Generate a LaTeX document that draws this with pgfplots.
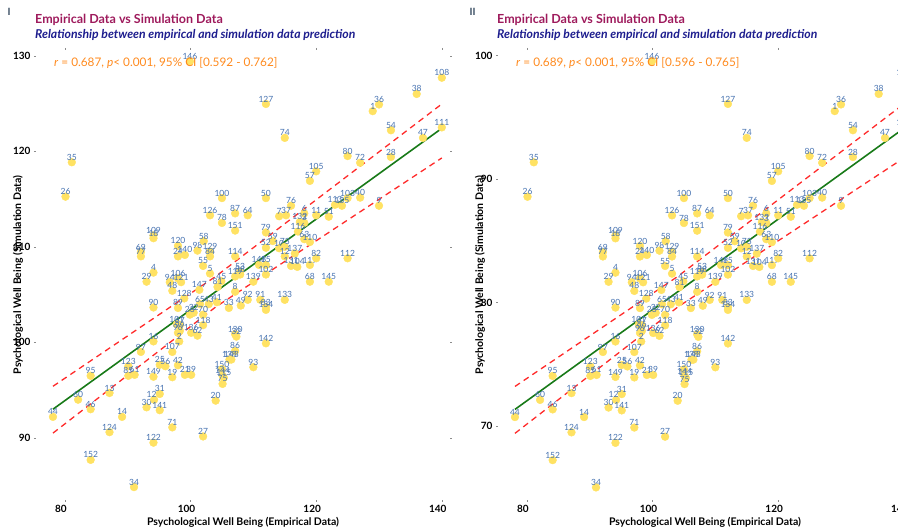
\documentclass[border=0pt]{standalone}
\usepackage{pgfplots}
\pgfplotsset{compat=1.18}
\usepackage{pgfplotstable}
\usepackage{fontspec}
\setmainfont{Lato}
\definecolor{dotc}{HTML}{FFE263}
\definecolor{labc}{HTML}{4672B0}
\definecolor{titc}{HTML}{9E1A5C}
\definecolor{subc}{HTML}{1E1E8E}
\definecolor{annc}{HTML}{FF8A1E}
\definecolor{romc}{HTML}{34495E}
\definecolor{regc}{HTML}{187A18}
\definecolor{cic}{HTML}{FF2A2A}

\pgfplotstableread{
lab x y y2
146 99.9 129.4 99.54
108 140.0 127.7 98.22
35 81.1 118.85 91.36
26 80.1 115.25 88.57
100 105.0 115.1 88.46
126 103.1 113.3 87.06
78 105.0 112.5 86.44
109 94.1 111.2 85.44
18 94.1 110.9 85.20
69 92.1 109.45 84.08
77 92.1 109.0 83.73
120 98.0 110.1 84.58
24 98.0 109.0 83.73
140 99.1 109.15 83.85
98 101.1 109.6 84.20
58 102.1 110.6 84.97
129 103.1 109.5 84.12
84 103.1 109.0 83.73
55 102.0 108.0 82.96
5 103.1 107.2 82.34
4 94.1 107.3 82.42
29 93.0 106.35 81.68
106 98.0 106.7 81.95
121 98.5 106.3 81.64
94 96.7 106.3 81.64
48 97.1 105.4 80.94
128 99.0 104.6 80.32
147 101.4 105.5 81.02
45 104.9 106.4 81.72
90 94.1 103.65 79.59
89 98.0 103.6 79.55
81 104.3 105.8 81.25
127 112.0 124.95 96.09
38 136.0 126.0 96.90
36 130.0 124.9 96.05
1 129.0 124.2 95.51
54 131.9 122.2 93.96
111 140.0 122.5 94.19
47 137.0 121.4 93.34
74 115.0 121.4 93.34
80 125.0 119.5 91.87
72 127.0 118.8 91.32
28 131.9 119.4 91.79
105 120.0 117.9 90.63
57 119.0 116.9 89.85
50 112.0 115.1 88.46
76 116.0 114.3 87.84
103 125.0 115.1 88.46
40 127.0 115.15 88.50
113 123.0 114.4 87.92
135 124.1 114.3 87.84
9 130.0 114.3 87.84
87 107.1 113.5 87.22
64 109.1 113.3 87.06
7 114.1 113.2 86.99
37 115.2 113.3 87.06
6 118.1 113.5 87.22
11 120.0 113.3 87.06
51 122.0 113.15 86.95
132 117.4 112.6 86.52
3 118.1 112.5 86.44
151 107.1 111.7 85.82
79 112.0 111.5 85.67
116 117.1 111.6 85.75
59 113.1 110.6 84.97
52 112.0 109.9 84.43
10 114.1 109.85 84.39
73 115.0 110.0 84.51
63 118.1 110.8 85.13
110 119.0 110.5 84.89
114 107.1 109.0 83.73
148 110.9 108.1 83.03
15 112.0 108.1 83.03
12 115.0 109.0 83.73
137 116.6 109.3 83.96
131 116.0 108.0 82.96
104 117.0 107.9 82.88
117 119.0 108.1 83.03
82 120.0 108.8 83.58
112 125.0 108.8 83.58
53 107.9 107.4 82.49
88 107.9 107.1 82.26
119 107.1 106.9 82.11
139 110.0 106.35 81.68
102 112.0 107.1 82.26
68 119.0 106.35 81.68
145 122.0 106.35 81.68
8 107.1 105.3 80.87
92 109.1 104.45 80.21
91 111.1 104.45 80.21
133 115.0 104.45 80.21
83 112.0 103.7 79.63
134 112.0 103.4 79.40
49 108.0 103.85 79.74
33 106.1 103.6 79.55
65 101.5 104.0 79.86
43 102.9 104.0 79.86
41 104.2 104.2 80.01
22 100.5 103.1 79.16
23 99.9 102.9 79.00
70 102.0 102.9 79.00
101 97.8 101.9 78.23
67 98.3 101.8 78.15
118 102.0 101.8 78.15
99 98.3 101.2 77.69
96 98.0 101.0 77.53
136 100.1 101.0 77.53
62 101.1 100.7 77.30
2 98.2 100.1 76.84
16 94.1 100.1 76.84
107 97.1 99.0 75.99
97 92.1 99.0 75.99
123 90.1 97.5 74.82
85 90.1 96.5 74.05
61 91.1 96.6 74.13
95 84.1 96.5 74.05
149 94.1 96.4 73.97
25 95.1 97.65 74.94
56 96.0 97.5 74.82
42 98.0 97.6 74.90
19 97.1 96.35 73.93
21 99.1 96.6 74.13
39 100.1 96.6 74.13
13 87.1 94.7 72.66
60 82.1 94.0 72.11
46 84.1 93.0 71.34
44 78.1 92.2 70.72
14 89.1 92.2 70.72
124 87.1 90.6 69.48
152 84.1 87.7 67.23
34 91.0 84.85 65.02
122 94.1 89.5 68.63
30 93.0 93.2 71.49
125 94.2 94.0 72.11
31 95.1 94.6 72.58
141 95.1 92.9 71.26
71 97.1 91.1 69.87
27 102.0 90.15 69.13
130 107.1 100.85 77.42
32 107.3 100.6 77.22
142 112.0 99.9 76.68
86 107.1 99.1 76.06
138 106.2 98.2 75.37
143 106.5 98.2 75.37
150 105.0 97.2 74.59
93 110.0 97.4 74.75
144 105.1 96.5 74.05
115 105.3 96.3 73.89
75 105.1 95.65 73.39
20 104.0 93.9 72.04
}\data

\pgfplotsset{
  panel/.style={
    scale only axis, width=414pt, height=450pt,
    axis line style={draw=none},
    tick style={black!45, line width=0.4pt},
    tick align=outside, major tick length=2pt,
    xmin=75.4, xmax=141.3,
    xtick={80,100,120,140},
    ticklabel style={font=\fontsize{10}{10}\selectfont\bfseries},
    xticklabel style={xshift=-4pt},
    /pgf/number format/assume math mode=true,
    xlabel={Psychological Well Being (Empirical Data)},
    ylabel={Psychological Well Being (Simulation Data)},
    label style={font=\fontsize{10.5}{10.5}\selectfont\bfseries},
    xlabel style={at={(axis description cs:0.5,0)}, anchor=center, yshift=-22pt},
    ylabel style={at={(axis description cs:-0.0435,0.5)}, anchor=center},
    clip=false,
  },
  pts/.style={color=dotc, only marks, mark=*, mark size=3.9pt,
    mark options={draw=none, fill=dotc},
    nodes near coords, point meta=explicit symbolic,
    every node near coord/.append style={font=\fontsize{8.5}{8.5}\selectfont, text=labc, anchor=south, yshift=1.2pt, inner sep=0.5pt}},
}

\begin{document}
\begin{tikzpicture}[x=1pt,y=1pt]
\useasboundingbox (0,0) rectangle (898,532);
\begin{axis}[panel, at={(36pt,32pt)}, anchor=south west,
  ymin=83.5, ymax=130.6, ytick={90,100,110,120,130}]
\addplot[pts] table[x=x, y=y, meta=lab] {\data};
\addplot[regc, line width=1.6pt] coordinates {(78.1,93.0) (140,122.4)};
\addplot[cic, line width=1.3pt, dash pattern=on 6pt off 4.5pt] coordinates {(78.1,95.4) (104,106.9) (140,124.95)};
\addplot[cic, line width=1.3pt, dash pattern=on 6pt off 4.5pt] coordinates {(78.1,90.5) (104,103.7) (140,119.3)};
\end{axis}
\begin{axis}[panel, at={(498pt,32pt)}, anchor=south west,
  ymin=64.0, ymax=100.46, ytick={70,80,90,100}]
\addplot[pts] table[x=x, y=y2, meta=lab] {\data};
\addplot[regc, line width=1.6pt] coordinates {(78.1,71.34) (140,94.11)};
\addplot[cic, line width=1.3pt, dash pattern=on 6pt off 4.5pt] coordinates {(78.1,73.2) (104,82.11) (140,96.09)};
\addplot[cic, line width=1.3pt, dash pattern=on 6pt off 4.5pt] coordinates {(78.1,69.4) (104,79.63) (140,91.71)};
\end{axis}
\foreach \dx/\rn/\rr/\pp/\cia/\cib in {0/I/0.687/0.001/0.592/0.762, 462/II/0.689/0.001/0.596/0.765}{
  \node[anchor=west, text=romc, font=\fontsize{10}{10}\selectfont\bfseries] at (4+\dx,520) {\rn};
  \node[anchor=west, text=titc, font=\fontsize{12.5}{12.5}\selectfont\bfseries, inner sep=0pt] at (35+\dx,512) {Empirical Data vs Simulation Data};
  \node[anchor=west, text=subc, font=\fontsize{12.2}{12.2}\selectfont\bfseries\itshape, inner sep=0pt] at (35+\dx,497) {Relationship between empirical and simulation data prediction};
  \node[anchor=west, text=annc, font=\fontsize{11.8}{11.8}\selectfont, inner sep=0pt] at (54+\dx,469) {\textit{r} = \rr, \textit{p}< \pp, 95\% CI [\cia\ - \cib]};
}
\end{tikzpicture}
\end{document}
